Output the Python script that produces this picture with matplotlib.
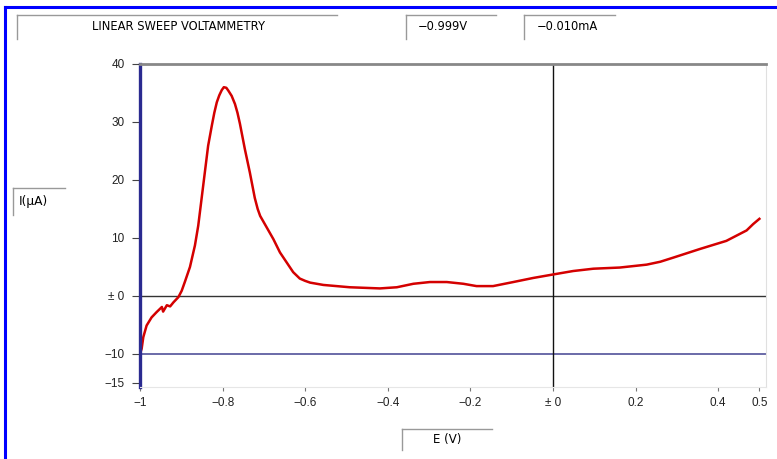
import matplotlib
matplotlib.use('Agg')
import matplotlib.pyplot as plt
from matplotlib.lines import Line2D

# potential (V) and current (uA)
potential = [-1.0, -0.996, -0.992, -0.984, -0.972, -0.96, -0.947, -0.944, -0.935,
             -0.927, -0.919, -0.907, -0.899, -0.891, -0.879, -0.867, -0.859, -0.851,
             -0.843, -0.835, -0.826, -0.820, -0.814, -0.808, -0.802, -0.797, -0.791,
             -0.786, -0.778, -0.770, -0.764, -0.758, -0.746, -0.734, -0.722, -0.715,
             -0.709, -0.693, -0.677, -0.661, -0.645, -0.629, -0.613, -0.600, -0.588,
             -0.556, -0.492, -0.419, -0.378, -0.338, -0.298, -0.257, -0.217, -0.185,
             -0.145, -0.096, -0.048, 0.0, 0.049, 0.098, 0.162, 0.227, 0.26,
             0.291, 0.356, 0.42, 0.469, 0.485, 0.5]
current = [-10.0, -9.1, -7.1, -5.1, -3.7, -2.8, -1.9, -2.7, -1.6,
           -1.8, -1.1, -0.2, 0.9, 2.5, 5.0, 8.7, 12.1, 16.7,
           21.3, 25.9, 29.4, 31.6, 33.4, 34.6, 35.5, 36.0, 35.9,
           35.4, 34.5, 33.1, 31.6, 29.7, 25.3, 21.3, 16.9, 15.0,
           13.8, 11.8, 9.8, 7.5, 5.8, 4.1, 3.0, 2.6, 2.3,
           1.9, 1.5, 1.3, 1.5, 2.1, 2.4, 2.4, 2.1, 1.7,
           1.7, 2.4, 3.1, 3.7, 4.3, 4.7, 4.9, 5.4, 5.9,
           6.6, 8.1, 9.5, 11.3, 12.4, 13.3]

x_ticks = [-1, -0.8, -0.6, -0.4, -0.2, 0, 0.2, 0.4, 0.5]
x_labels = ['\u22121', '\u22120.8', '\u22120.6', '\u22120.4', '\u22120.2', '\u00b1 0', '0.2', '0.4', '0.5']
y_ticks = [40, 30, 20, 10, 0, -10, -15]
y_labels = ['40', '30', '20', '10', '\u00b1 0', '\u221210', '\u221215']

header_texts = ['LINEAR SWEEP VOLTAMMETRY', '\u22120.999V', '\u22120.010mA']

W, H = 777, 459
plt.rcParams['font.family'] = ['Liberation Sans', 'DejaVu Sans']

fig = plt.figure(figsize=(W / 100, H / 100), dpi=100)


def fx(px):
    return px / W


def fy(py):
    return 1 - py / H


def inset_box(x0, y0, x1, y1):
    # only top and left edges, like the instrument software panels
    fig.add_artist(Line2D([fx(x0), fx(x1)], [fy(y0), fy(y0)], color='#999999', lw=1))
    fig.add_artist(Line2D([fx(x0), fx(x0)], [fy(y0), fy(y1)], color='#999999', lw=1))


# blue window frame
fig.add_artist(Line2D([fx(5), fx(777)], [fy(7), fy(7)], color='#0000ff', lw=2.2))
fig.add_artist(Line2D([fx(5), fx(5)], [fy(7), fy(459)], color='#0000ff', lw=2.2))

inset_box(17, 15, 337, 39)
inset_box(406, 15, 496, 39)
inset_box(524, 15, 615, 39)
fig.text(fx(178), fy(26), header_texts[0], ha='center', va='center', fontsize=8.3,
         family='DejaVu Sans')
fig.text(fx(418), fy(26), header_texts[1], ha='left', va='center', fontsize=8.3,
         family='DejaVu Sans')
fig.text(fx(537), fy(26), header_texts[2], ha='left', va='center', fontsize=8.3,
         family='DejaVu Sans')

inset_box(13, 188, 65, 215)
fig.text(fx(19), fy(202), 'I(\u03bcA)', ha='left', va='center', fontsize=8.8,
         family='DejaVu Sans')
inset_box(402, 429, 492, 450)
fig.text(fx(447), fy(440), 'E (V)', ha='center', va='center', fontsize=8.5,
         family='DejaVu Sans')

ax = fig.add_axes([fx(140), fy(387), (766 - 140) / W, (387 - 64) / H])
ax.axhline(0, color='#333333', lw=1)
ax.axhline(-10, color='#6a6aa8', lw=1.4)
ax.axvline(0, color='#111111', lw=1)
ax.plot(potential, current, color='#d40000', lw=1.8)

ax.set_xlim(-1, 0.516)
ax.set_ylim(-15.7, 40)
ax.set_xticks(x_ticks)
ax.set_xticklabels(x_labels)
ax.set_yticks(y_ticks)
ax.set_yticklabels(y_labels)
ax.tick_params(axis='both', labelsize=8.5, colors='#222222', width=0.8)
ax.tick_params(axis='y', length=6, pad=5, color='#444444')
ax.tick_params(axis='x', length=3, pad=4, color='#777777')

ax.spines['left'].set_color('#2a2a90')
ax.spines['left'].set_linewidth(2.4)
ax.spines['top'].set_color('#888888')
ax.spines['top'].set_linewidth(2)
ax.spines['right'].set_color('#e0e0e0')
ax.spines['bottom'].set_color('#e6e6e6')

fig.savefig('out.png', dpi=100)
